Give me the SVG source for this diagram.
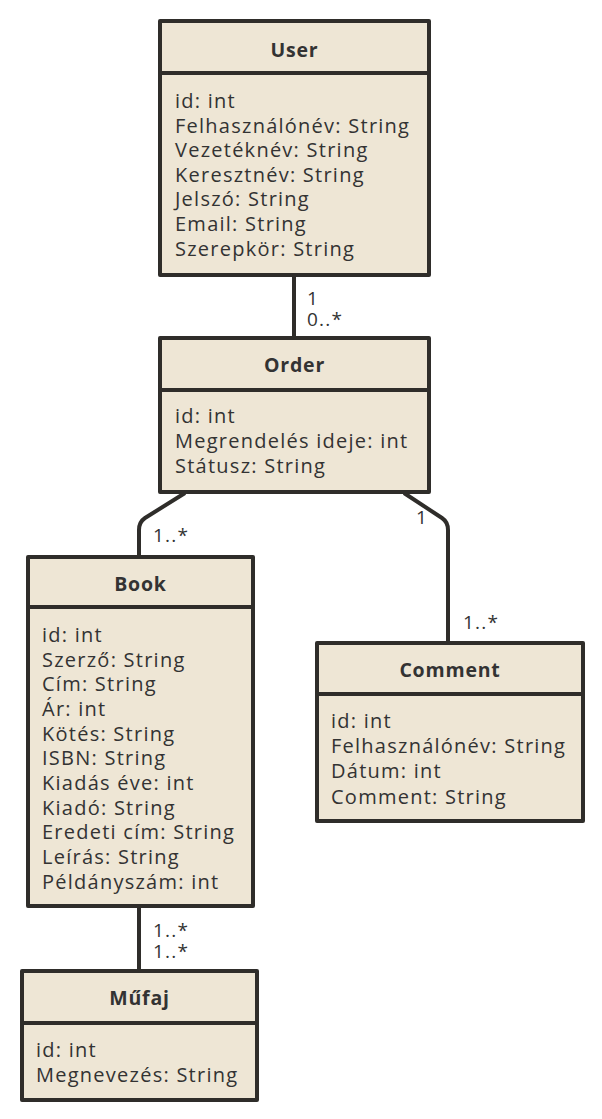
<svg xmlns="http://www.w3.org/2000/svg" width="602" height="1119" viewBox="0 0 602 1119">
<style>
.box{fill:#EEE6D5;stroke:#2F2D2A;stroke-width:4;stroke-linejoin:round}
.sep{stroke:#2F2D2A;stroke-width:4}
.title{font-family:"Open Sans","Noto Sans",sans-serif;font-weight:bold;font-size:19.5px;letter-spacing:0.8px;fill:#333;text-anchor:middle}
.attr{font-family:"Open Sans","Noto Sans",sans-serif;font-size:20px;letter-spacing:1.25px;fill:#333}
.mult{font-family:"Open Sans","Noto Sans",sans-serif;font-size:19px;letter-spacing:1.2px;fill:#333}
.conn{fill:none;stroke:#2F2D2A;stroke-width:4;stroke-linejoin:round}
</style>
<rect width="602" height="1119" fill="#FFFFFF"/>
<g id="connectors">
<path class="conn" d="M294,275 L294,338"/>
<path class="conn" d="M185,493 L145,518 Q139,522 139,530 L139,557"/>
<path class="conn" d="M404,493 L442,518 Q448,522 448,530 L448,643"/>
<path class="conn" d="M139,906 L139,971"/>
<text class="mult" x="307" y="305">1</text>
<text class="mult" x="307" y="326">0..*</text>
<text class="mult" x="153" y="542">1..*</text>
<text class="mult" x="416" y="524">1</text>
<text class="mult" x="463" y="629">1..*</text>
<text class="mult" x="153" y="937">1..*</text>
<text class="mult" x="153" y="958">1..*</text>
</g>
<g id="user">
<rect class="box" x="160" y="21" width="269" height="254"/>
<line class="sep" x1="160" y1="73" x2="429" y2="73"/>
<text class="title" x="294.5" y="57">User</text>
<text class="attr" x="175" y="108">id: int</text>
<text class="attr" x="175" y="133">Felhasználónév: String</text>
<text class="attr" x="175" y="157">Vezetéknév: String</text>
<text class="attr" x="175" y="182">Keresztnév: String</text>
<text class="attr" x="175" y="206">Jelszó: String</text>
<text class="attr" x="175" y="231">Email: String</text>
<text class="attr" x="175" y="256">Szerepkör: String</text>
</g>
<g id="order">
<rect class="box" x="160" y="338" width="269" height="154"/>
<line class="sep" x1="160" y1="390" x2="429" y2="390"/>
<text class="title" x="294.5" y="372">Order</text>
<text class="attr" x="175" y="423">id: int</text>
<text class="attr" x="175" y="448">Megrendelés ideje: int</text>
<text class="attr" x="175" y="473">Státusz: String</text>
</g>
<g id="book">
<rect class="box" x="28" y="557" width="225" height="349"/>
<line class="sep" x1="28" y1="607" x2="253" y2="607"/>
<text class="title" x="140.5" y="591">Book</text>
<text class="attr" x="42" y="642">id: int</text>
<text class="attr" x="42" y="667">Szerző: String</text>
<text class="attr" x="42" y="691">Cím: String</text>
<text class="attr" x="42" y="716">Ár: int</text>
<text class="attr" x="42" y="741">Kötés: String</text>
<text class="attr" x="42" y="765">ISBN: String</text>
<text class="attr" x="42" y="790">Kiadás éve: int</text>
<text class="attr" x="42" y="815">Kiadó: String</text>
<text class="attr" x="42" y="839">Eredeti cím: String</text>
<text class="attr" x="42" y="864">Leírás: String</text>
<text class="attr" x="42" y="889">Példányszám: int</text>
</g>
<g id="comment">
<rect class="box" x="317" y="643" width="266" height="178"/>
<line class="sep" x1="317" y1="694" x2="583" y2="694"/>
<text class="title" x="450" y="677">Comment</text>
<text class="attr" x="331" y="728">id: int</text>
<text class="attr" x="331" y="753">Felhasználónév: String</text>
<text class="attr" x="331" y="778">Dátum: int</text>
<text class="attr" x="331" y="804">Comment: String</text>
</g>
<g id="mufaj">
<rect class="box" x="22" y="971" width="235" height="129"/>
<line class="sep" x1="22" y1="1023" x2="257" y2="1023"/>
<text class="title" x="139.5" y="1005">Műfaj</text>
<text class="attr" x="36" y="1057">id: int</text>
<text class="attr" x="36" y="1082">Megnevezés: String</text>
</g>
</svg>
